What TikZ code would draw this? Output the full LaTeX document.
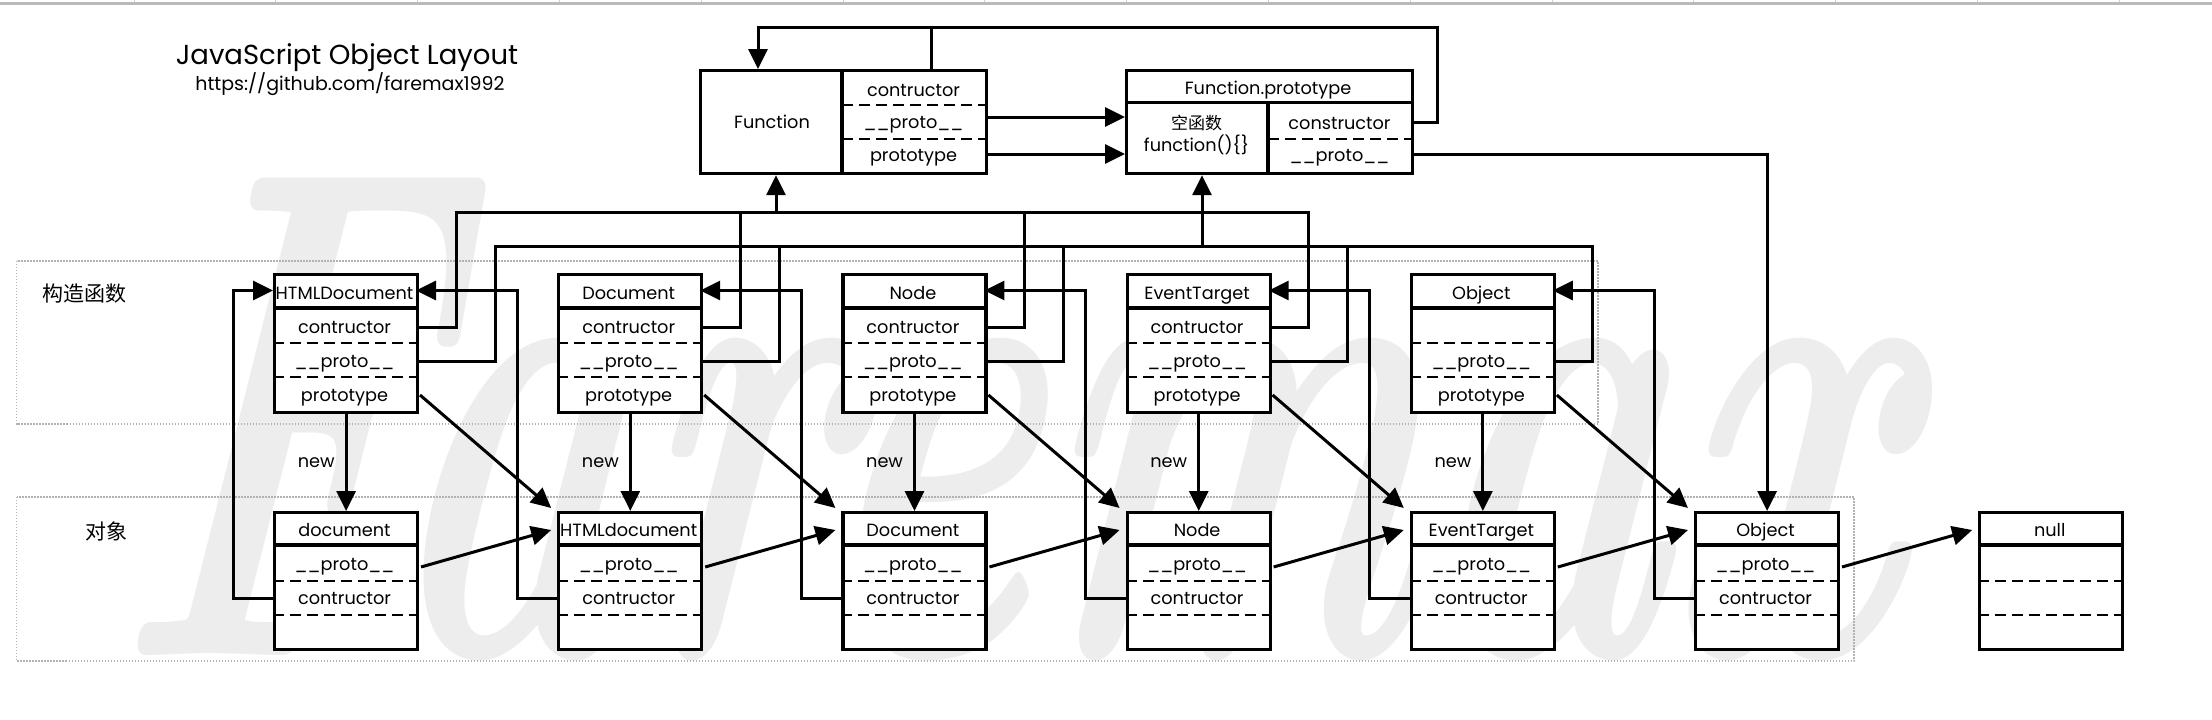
\documentclass[tikz,border=0pt]{standalone}
\usepackage{fontspec}
\newfontfamily\pop{Poppins}
\newfontfamily\cjk{Noto Sans CJK SC}
\usetikzlibrary{arrows.meta,calc}
\newcommand\mytopbox[6]{%
  \node[box, minimum width=143pt, minimum height=138pt] (#1) at (#2,273) {};
  \draw[sep] (#2,308) -- ++(143,0);
  \draw[dsh] (#2,343) -- ++(143,0);
  \draw[dsh] (#2,377) -- ++(143,0);
  \node[txt] (#1-h) at (#2+71.5,299) {#3};
  \node[txt] (#1-1) at (#2+71.5,333.5) {#4};
  \node[txt] (#1-2) at (#2+71.5,367.5) {#5};
  \node[txt] (#1-3) at (#2+71.5,401.5) {#6};
  \coordinate (#1-hw) at (#2,290.5);
  \coordinate (#1-he) at (#2+143,290.5);
  \coordinate (#1-ce) at (#2+143,327);
  \coordinate (#1-pe) at (#2+143,361);
  \coordinate (#1-te) at (#2+143,395);
}
\newcommand\mybotbox[5]{%
  \node[box, minimum width=143pt, minimum height=137pt] (#1) at (#2,511) {};
  \draw[sep] (#2,545) -- ++(143,0);
  \draw[dsh] (#2,581) -- ++(143,0);
  \draw[dsh] (#2,615) -- ++(143,0);
  \node[txt] (#1-h) at (#2+71.5,536.5) {#3};
  \node[txt] (#1-1) at (#2+71.5,570) {#4};
  \node[txt] (#1-2) at (#2+71.5,604) {#5};
  \coordinate (#1-hw) at (#2,528);
  \coordinate (#1-pe) at (#2+143,563);
  \coordinate (#1-cw) at (#2,598);
}
\begin{document}
\begin{tikzpicture}[x=1pt,y=-1pt,
  box/.style={draw, line width=3.2pt, fill=white, inner sep=0pt, anchor=north west},
  sep/.style={line width=3.2pt},
  dsh/.style={line width=2.2pt, dash pattern=on 11pt off 6pt},
  conn/.style={line width=3pt},
  arr/.style={line width=3pt, -{Triangle[length=20pt,width=19pt]}},
  txt/.style={font=\pop\fontsize{17.7}{18}\selectfont, inner sep=0pt, anchor=base},
  newlbl/.style={font=\pop\fontsize{17.7}{18}\selectfont, inner sep=0pt},
  cjklbl/.style={font=\cjk\fontsize{21}{21}\selectfont, inner sep=0pt},
  region/.style={draw=black!30, line width=1.4pt, dash pattern=on 1.4pt off 1.6pt},
]
\fill[white] (0,0) rectangle (2212,720);
\useasboundingbox (0,0) rectangle (2212,720);

% watermark
\node[anchor=base west, inner sep=0pt, text=black!7, font=\rmfamily\bfseries\itshape\fontsize{413}{413}\selectfont, yscale=1.7, xslant=0.18] (wm) at (110,655) {Faremax};

% top gray bar
\fill[black!27] (0,1.5) rectangle (2212,4.5);
\foreach \k in {0,...,14} \draw[black!18, line width=0.8pt] (134+141.8*\k,0) -- ++(0,2);

% title
\node[font=\pop\fontsize{27.5}{27.5}\selectfont, anchor=base, inner sep=0pt] (title) at (347,64.3) {JavaScript Object Layout};
\node[font=\pop\fontsize{19}{19}\selectfont, anchor=base, inner sep=0pt] (url) at (350,90) {https://github.com/faremax1992};

% regions
\draw[region] (16.5,261) rectangle (1598,424);
\draw[region] (16.5,497) rectangle (1854,661);
\node[cjklbl] (lbl1) at (84,293.5) {构造函数};
\node[cjklbl] (lbl2) at (106,531.5) {对象};

% Function
\node[box, minimum width=286pt, minimum height=103pt] (fn) at (699,69) {};
\draw[sep] (842,69) -- (842,172);
\draw[dsh] (842,105) -- (985,105);
\draw[dsh] (842,139) -- (985,139);
\node[txt] (fn-name) at (772,128.3) {Function};
\node[txt] (fn-1) at (913.5,96) {contructor};
\node[txt] (fn-2) at (913.5,128.3) {\_\_proto\_\_};
\node[txt] (fn-3) at (913.5,161.5) {prototype};

% Function.prototype
\node[box, minimum width=286pt, minimum height=103pt] (fp) at (1125,69) {};
\draw[sep] (1125,102.5) -- (1411,102.5);
\draw[sep] (1268,102.5) -- (1268,172);
\draw[dsh] (1268,139) -- (1411,139);
\node[txt] (fp-h) at (1268,94) {Function.prototype};
\node[font=\cjk\fontsize{17}{17}\selectfont, inner sep=0pt] (fp-l1) at (1196.5,123.5) {空函数};
\node[txt] (fp-l2) at (1196.5,151.5) {function()\{\}};
\node[txt] (fp-1) at (1339.5,129) {constructor};
\node[txt] (fp-2) at (1339.5,161.5) {\_\_proto\_\_};

% constructor row
\mytopbox{tHD}{273}{HTMLDocument}{contructor}{\_\_proto\_\_}{prototype}
\mytopbox{tD}{557.2}{Document}{contructor}{\_\_proto\_\_}{prototype}
\mytopbox{tN}{841.4}{Node}{contructor}{\_\_proto\_\_}{prototype}
\mytopbox{tE}{1125.6}{EventTarget}{contructor}{\_\_proto\_\_}{prototype}
\mytopbox{tO}{1409.8}{Object}{}{\_\_proto\_\_}{prototype}

% object row
\mybotbox{bd}{273}{document}{\_\_proto\_\_}{contructor}
\mybotbox{bH}{557.2}{HTMLdocument}{\_\_proto\_\_}{contructor}
\mybotbox{bD}{841.4}{Document}{\_\_proto\_\_}{contructor}
\mybotbox{bN}{1125.6}{Node}{\_\_proto\_\_}{contructor}
\mybotbox{bE}{1409.8}{EventTarget}{\_\_proto\_\_}{contructor}
\mybotbox{bO}{1694}{Object}{\_\_proto\_\_}{contructor}
\mybotbox{bnull}{1978.2}{null}{}{}

% Function <-> Function.prototype
\coordinate (fnP) at (985,117);
\coordinate (fnT) at (985,154);
\draw[arr] (fnP) -- (fnP -| fp.west);
\draw[arr] (fnT) -- (fnT -| fp.west);
\coordinate (fpC) at (1411,122);
\coordinate (lpR) at (1437,27);
\coordinate (lpL) at (758,27);
\draw[arr] (fpC) -| (lpR) -- (lpL) -- (lpL |- fn.north);
\coordinate (fnC) at (931,69);
\draw[conn] (fnC) -- (fnC |- lpL);
\coordinate (fpP) at (1411,154);
\draw[arr] (fpP) -| (bO.north);

% bus A (contructor -> Function)
\coordinate (pA0) at (456,212);
\coordinate (pA1) at (740.2,212);
\coordinate (pA2) at (1024.4,212);
\coordinate (pA3) at (1308.6,212);
\coordinate (pAF) at (776,212);
\draw[conn] (tHD-ce) -| (pA0) -- (pA3) |- (tE-ce);
\draw[conn] (tD-ce) -| (pA1);
\draw[conn] (tN-ce) -| (pA2);
\draw[arr] (pAF) -- (pAF |- fn.south);

% bus B (__proto__ -> Function.prototype)
\coordinate (pB0) at (495,246);
\coordinate (pB1) at (779.2,246);
\coordinate (pB2) at (1063.4,246);
\coordinate (pB3) at (1347.6,246);
\coordinate (pB4) at (1592.3,246);
\coordinate (pBF) at (1202,246);
\draw[conn] (tHD-pe) -| (pB0) -- (pB4) |- (tO-pe);
\draw[conn] (tD-pe) -| (pB1);
\draw[conn] (tN-pe) -| (pB2);
\draw[conn] (tE-pe) -| (pB3);
\draw[arr] (pBF) -- (pBF |- fp.south);

% new
\foreach \ta/\tb in {tHD/bd, tD/bH, tN/bD, tE/bN, tO/bE}
  \draw[arr] (\ta.south) -- node[newlbl, midway, left=10pt] {new} (\tb.north);

% prototype diagonals
\foreach \ta/\tb in {tHD/bH, tD/bD, tN/bN, tE/bE, tO/bO}
  \draw[arr] ($(\ta-te)+(4,0)$) -- ($(\tb.north west)+(-6,-3)$);

% contructor of objects -> constructor boxes
\coordinate (v0) at (233,290.5);
\coordinate (v1) at (517.2,290.5);
\coordinate (v2) at (801.4,290.5);
\coordinate (v3) at (1085.6,290.5);
\coordinate (v4) at (1369.8,290.5);
\coordinate (v5) at (1654,290.5);
\draw[arr] (bd-cw) -| (v0) -- (tHD-hw);
\draw[arr] (bH-cw) -| (v1) -- (tHD-he);
\draw[arr] (bD-cw) -| (v2) -- (tD-he);
\draw[arr] (bN-cw) -| (v3) -- (tN-he);
\draw[arr] (bE-cw) -| (v4) -- (tE-he);
\draw[arr] (bO-cw) -| (v5) -- (tO-he);

% __proto__ chain of objects
\foreach \ta/\tb in {bd/bH, bH/bD, bD/bN, bN/bE, bE/bO, bO/bnull}
  \draw[arr] ($(\ta-pe)+(5,4)$) -- ($(\tb-hw)+(-6,2)$);
\end{tikzpicture}
\end{document}
